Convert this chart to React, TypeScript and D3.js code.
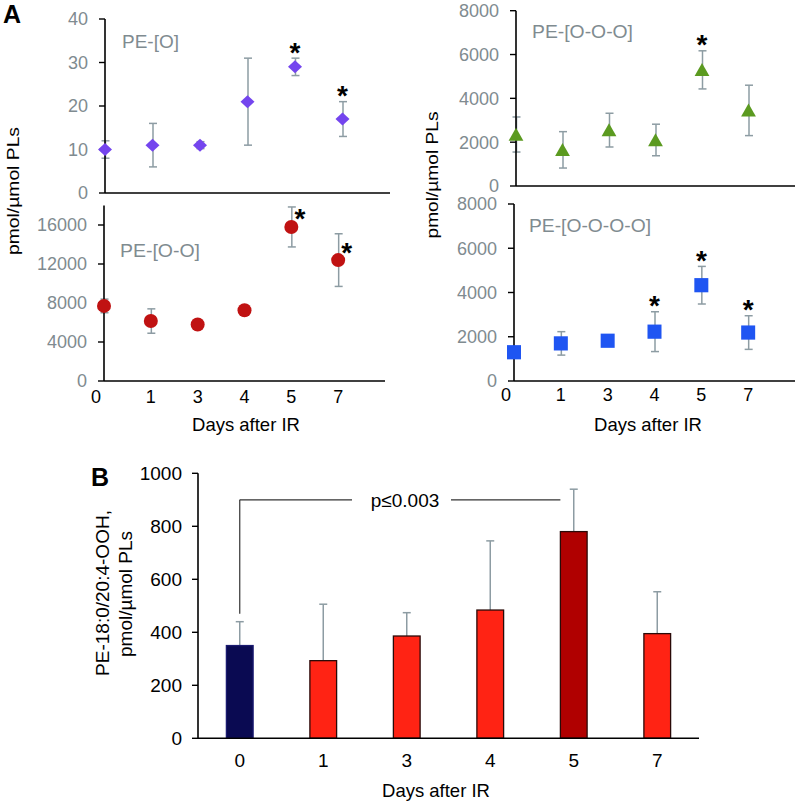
import React from "react";
import * as d3 from "d3";

// ---------- data ----------
const days = ["0", "1", "3", "4", "5", "7"];

const peO = [10, 11, 11, 21, 29, 17];
const peOErr = [2, 5, 0.8, 10, 2, 4];
const peOStar = [false, false, false, false, true, true];

const peOO = [7700, 6150, 5800, 7250, 15800, 12400];
const peOOErr = [700, 1250, 300, 500, 2050, 2700];
const peOOStar = [false, false, false, false, true, true];

const peOOO = [2350, 1650, 2550, 2100, 5300, 3450];
const peOOOErr = [800, 830, 770, 720, 870, 1150];
const peOOOStar = [false, false, false, false, true, false];

const peOOOO = [1300, 1700, 1820, 2230, 4330, 2190];
const peOOOOErr = [200, 530, 150, 900, 850, 760];
const peOOOOStar = [false, false, false, true, true, true];

const ticksPEO = [0, 10, 20, 30, 40];
const ticksPEOO = [0, 4000, 8000, 12000, 16000];
const ticksRight = [0, 2000, 4000, 6000, 8000];

const barValues = [350, 293, 386, 484, 780, 395];
const barErr = [90, 213, 88, 261, 160, 158];
const barTicks = [0, 200, 400, 600, 800, 1000];
const pText = "p≤0.003";
const pLevel = 900;

// ---------- styles ----------
const FONT = "'Liberation Sans', Arial, Helvetica, sans-serif";
const GRAY_TEXT = "#7f8b90";
const ERR_COLOR = "#8d9ca3";
const barFill = ["#0a0a52", "#ff2314", "#ff2314", "#ff2314", "#b00000", "#ff2314"];

type Marker = "diamond" | "circle" | "triangle" | "square";

function markerShape(kind: Marker, cx: number, cy: number, color: string, key: string) {
  if (kind === "circle") return <circle key={key} cx={cx} cy={cy} r={7} fill={color} />;
  if (kind === "square")
    return <rect key={key} x={cx - 7} y={cy - 7.1} width={14} height={14.2} fill={color} />;
  if (kind === "diamond") {
    const p = `${cx},${cy - 6.5} ${cx + 7},${cy} ${cx},${cy + 6.5} ${cx - 7},${cy}`;
    return <polygon key={key} points={p} fill={color} />;
  }
  const p = `${cx},${cy - 6.8} ${cx + 7.4},${cy + 6.2} ${cx - 7.4},${cy + 6.2}`;
  return <polygon key={key} points={p} fill={color} />;
}

interface PanelProps {
  x0: number;
  x1: number;
  yBase: number;
  yTop: number;
  domainMax: number;
  ticks: number[];
  values: number[];
  errs: number[];
  stars: boolean[];
  marker: Marker;
  color: string;
  label: string;
  labelX: number;
  labelY: number;
  labelW: number;
  starMode: "above" | "right";
  showX: boolean;
  xLabelY?: number;
}

function ScatterPanel(p: PanelProps) {
  const y = d3.scaleLinear().domain([0, p.domainMax]).range([p.yBase, p.yTop]);
  const x = d3.scaleLinear().domain([0, 6]).range([p.x0, p.x1]);
  return (
    <g>
      {/* error bars */}
      {p.values.map((v, i) => {
        const cx = x(i) + 0.5;
        const t = y(v + p.errs[i]);
        const b = y(Math.max(0, v - p.errs[i]));
        return (
          <g key={"e" + i} stroke={ERR_COLOR} strokeWidth={1.5}>
            <line x1={cx} x2={cx} y1={t} y2={b} />
            <line x1={cx - 4} x2={cx + 4} y1={t} y2={t} />
            <line x1={cx - 4} x2={cx + 4} y1={b} y2={b} />
          </g>
        );
      })}
      {/* axes */}
      <line x1={p.x0} x2={p.x0} y1={p.yBase} y2={y(p.domainMax)} stroke="#000" strokeWidth={1.6} />
      <line x1={p.x0} x2={p.x1} y1={p.yBase} y2={p.yBase} stroke="#000" strokeWidth={1.6} />
      {p.ticks.map((t) => (
        <g key={"t" + t}>
          <line x1={p.x0 - 6} x2={p.x0} y1={y(t)} y2={y(t)} stroke="#000" strokeWidth={1.4} />
          <text
            x={p.x0 - 17}
            y={y(t)}
            dy="0.36em"
            textAnchor="end"
            fontFamily={FONT}
            fontSize={18}
            fill={GRAY_TEXT}
          >
            {t}
          </text>
        </g>
      ))}
      {/* markers */}
      {p.values.map((v, i) => markerShape(p.marker, x(i), y(v), p.color, "m" + i))}
      {/* stars */}
      {p.values.map((v, i) => {
        if (!p.stars[i]) return null;
        let sx = x(i);
        let sy = y(v + p.errs[i]) - 12;
        if (p.starMode === "right") {
          sx = x(i) + 8.5;
          sy = y(v) - 14;
        }
        return (
          <text
            key={"s" + i}
            x={sx}
            y={sy + 15.5}
            textAnchor="middle"
            fontFamily={FONT}
            fontWeight="bold"
            fontSize={28}
            fill="#000"
          >
            *
          </text>
        );
      })}
      {/* series label */}
      <text
        x={p.labelX}
        y={p.labelY}
        fontFamily={FONT}
        fontSize={17.5}
        fill={GRAY_TEXT}
        textLength={p.labelW}
        lengthAdjust="spacingAndGlyphs"
      >
        {p.label}
      </text>
      {p.showX &&
        days.map((d, i) => (
          <text
            key={"x" + i}
            x={x(i) - (i === 0 ? 8 : 0)}
            y={p.xLabelY}
            textAnchor="middle"
            fontFamily={FONT}
            fontSize={18}
            fill="#000"
          >
            {d}
          </text>
        ))}
    </g>
  );
}

function BarPanel() {
  const x0 = 198;
  const x1 = 699;
  const yScale = d3.scaleLinear().domain([0, 1000]).range([738.3, 473.3]);
  const band = d3.scaleBand<string>().domain(days).range([x0, x1]).paddingInner(0.68).paddingOuter(0.34);
  const bw = band.bandwidth();
  const cx = (i: number) => (band(days[i]) as number) + bw / 2;
  const yb = yScale(0);
  const pY = yScale(pLevel);
  return (
    <g>
      {/* error bars */}
      {barValues.map((v, i) => {
        const t = yScale(v + barErr[i]);
        return (
          <g key={"be" + i} stroke={ERR_COLOR} strokeWidth={1.5}>
            <line x1={cx(i)} x2={cx(i)} y1={yScale(v)} y2={t} />
            <line x1={cx(i) - 4} x2={cx(i) + 4} y1={t} y2={t} />
          </g>
        );
      })}
      {barValues.map((v, i) => (
        <rect
          key={"b" + i}
          x={band(days[i])}
          y={yScale(v)}
          width={bw}
          height={yb - yScale(v)}
          fill={barFill[i]}
          stroke={i === 0 ? "#1a1a70" : "#2a0a08"}
          strokeWidth={1.3}
        />
      ))}
      {/* axes */}
      <line x1={x0} x2={x0} y1={yb} y2={yScale(1000)} stroke="#000" strokeWidth={1.6} />
      <line x1={x0} x2={x1} y1={yb} y2={yb} stroke="#000" strokeWidth={1.6} />
      {barTicks.map((t) => (
        <g key={"bt" + t}>
          <line x1={x0 - 6} x2={x0} y1={yScale(t)} y2={yScale(t)} stroke="#000" strokeWidth={1.4} />
          <text x={x0 - 16} y={yScale(t)} dy="0.36em" textAnchor="end" fontFamily={FONT} fontSize={19} fill="#000">
            {t}
          </text>
        </g>
      ))}
      {days.map((d, i) => (
        <text key={"bx" + i} x={cx(i)} y={767} textAnchor="middle" fontFamily={FONT} fontSize={19} fill="#000">
          {d}
        </text>
      ))}
      <text x={436} y={797} textAnchor="middle" fontFamily={FONT} fontSize={18.5} fill="#000">
        Days after IR
      </text>
      {/* p-value bracket */}
      <g stroke="#333" strokeWidth={1.2} fill="none">
        <line x1={cx(0)} x2={cx(0)} y1={yScale(barValues[0] + barErr[0]) - 8} y2={pY} />
        <line x1={cx(0)} x2={352} y1={pY} y2={pY} />
        <line x1={451} x2={band(days[4]) as number} y1={pY} y2={pY} />
      </g>
      <text x={405} y={pY} dy="0.36em" textAnchor="middle" fontFamily={FONT} fontSize={19} fill="#000">
        {pText}
      </text>
      {/* y label */}
      <text
        transform="translate(109,593) rotate(-90)"
        textAnchor="middle"
        fontFamily={FONT}
        fontSize={19}
        fill="#000"
      >
        PE-18:0/20:4-OOH,
      </text>
      <text
        transform="translate(132,594) rotate(-90)"
        textAnchor="middle"
        fontFamily={FONT}
        fontSize={19}
        fill="#000"
      >
        pmol/µmol PLs
      </text>
      <text x={91} y={486} fontFamily={FONT} fontSize={25} fontWeight="bold" fill="#000">
        B
      </text>
    </g>
  );
}

export default function App() {
  return (
    <svg
      width={800}
      height={803}
      viewBox="0 0 800 803"
      style={{ position: "absolute", left: 0, top: 0, background: "#fff" }}
    >
      <rect x={0} y={0} width={800} height={803} fill="#fff" />
      <text x={3} y={23} fontFamily={FONT} fontSize={25} fontWeight="bold" fill="#000">
        A
      </text>

      <ScatterPanel
        x0={105}
        x1={390}
        yBase={193}
        yTop={19}
        domainMax={40}
        ticks={ticksPEO}
        values={peO}
        errs={peOErr}
        stars={peOStar}
        marker="diamond"
        color="#7445ee"
        label="PE-[O]"
        labelX={122}
        labelY={48}
        labelW={57}
        starMode="above"
        showX={false}
      />
      <ScatterPanel
        x0={104}
        x1={385}
        yBase={381}
        yTop={205.5}
        domainMax={18000}
        ticks={ticksPEOO}
        values={peOO}
        errs={peOOErr}
        stars={peOOStar}
        marker="circle"
        color="#c01212"
        label="PE-[O-O]"
        labelX={120}
        labelY={257}
        labelW={80}
        starMode="right"
        showX={true}
        xLabelY={403}
      />
      <ScatterPanel
        x0={516}
        x1={795}
        yBase={186}
        yTop={10.7}
        domainMax={8000}
        ticks={ticksRight}
        values={peOOO}
        errs={peOOOErr}
        stars={peOOOStar}
        marker="triangle"
        color="#5b9a20"
        label="PE-[O-O-O]"
        labelX={532}
        labelY={38}
        labelW={101}
        starMode="above"
        showX={false}
      />
      <ScatterPanel
        x0={514}
        x1={795}
        yBase={381}
        yTop={204}
        domainMax={8000}
        ticks={ticksRight}
        values={peOOOO}
        errs={peOOOOErr}
        stars={peOOOOStar}
        marker="square"
        color="#1f55f2"
        label="PE-[O-O-O-O]"
        labelX={529}
        labelY={232}
        labelW={122}
        starMode="above"
        showX={true}
        xLabelY={401}
      />

      <text x={246} y={431} textAnchor="middle" fontFamily={FONT} fontSize={18.5} fill="#000">
        Days after IR
      </text>
      <text x={648} y={431} textAnchor="middle" fontFamily={FONT} fontSize={18.5} fill="#000">
        Days after IR
      </text>

      <text
        transform="translate(19,191) rotate(-90)"
        textAnchor="middle"
        fontFamily={FONT}
        fontSize={17}
        fill="#000"
        textLength={128}
        lengthAdjust="spacingAndGlyphs"
      >
        pmol/µmol PLs
      </text>
      <text
        transform="translate(438,175) rotate(-90)"
        textAnchor="middle"
        fontFamily={FONT}
        fontSize={17}
        fill="#000"
        textLength={127}
        lengthAdjust="spacingAndGlyphs"
      >
        pmol/µmol PLs
      </text>

      <BarPanel />
    </svg>
  );
}
